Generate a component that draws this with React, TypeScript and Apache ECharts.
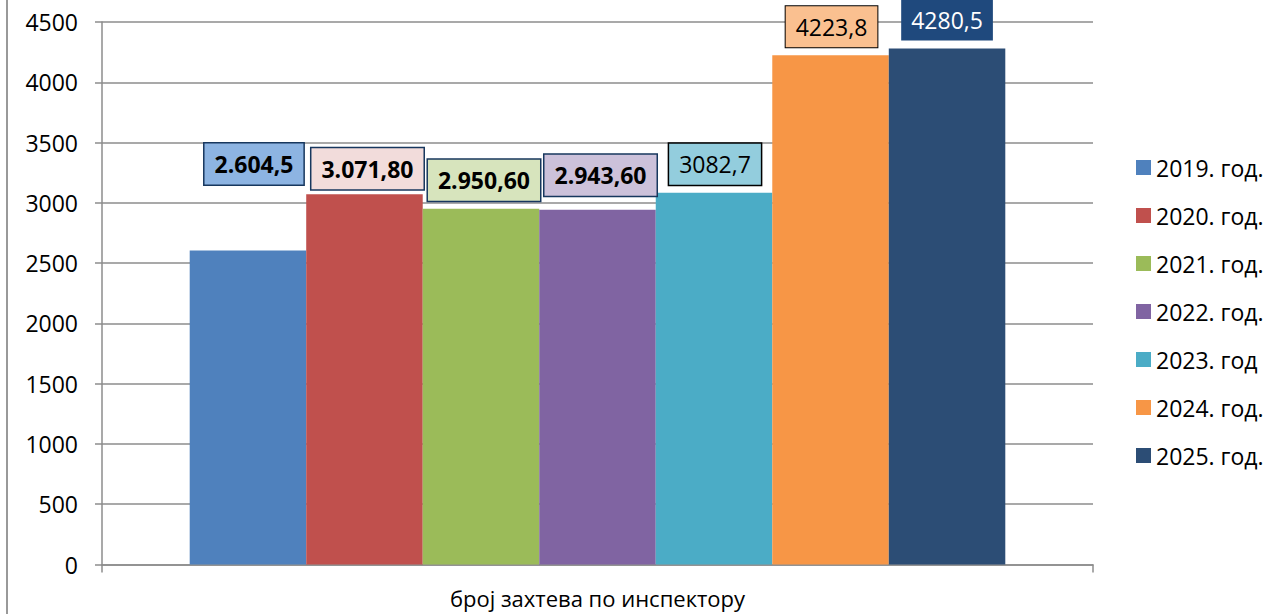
import React, { useEffect, useRef } from "react";
import * as echarts from "echarts";

const categories = ["број захтева по инспектору"];
const seriesNames = ["2019. год.", "2020. год.", "2021. год.", "2022. год.", "2023. год", "2024. год.", "2025. год."];
const seriesValues = [2604.5, 3071.8, 2950.6, 2943.6, 3082.7, 4223.8, 4280.5];
const labelTexts = ["2.604,5", "3.071,80", "2.950,60", "2.943,60", "3082,7", "4223,8", "4280,5"];
const yTicks = { min: 0, max: 4500, interval: 500 };

const barColors = ["#4F81BD", "#C0504D", "#9BBB59", "#8064A2", "#4BACC6", "#F79646", "#2C4D75"];
const labelBg = ["#8DB4E2", "#F2DCDB", "#D7E4BD", "#CCC1DA", "#93CDDD", "#FAC090", "#1F497D"];
const labelBorder = ["#17375E", "#17375E", "#17375E", "#17375E", "#000000", "#000000", "#1F497D"];
const labelBorderW = [1.5, 1.5, 1.5, 1.5, 1.5, 1, 0];
const labelColor = ["#000", "#000", "#000", "#000", "#000", "#000", "#fff"];
const labelWeight = ["bold", "bold", "bold", "bold", "normal", "normal", "normal"];
const labelOffset = [[6, -66], [3, -5], [3, -8], [3, -14], [1, -8], [1, -8], [0, -8]];

const FONT = "'Open Sans', sans-serif";

export default function App() {
  const ref = useRef<HTMLDivElement>(null);
  useEffect(() => {
    if (!ref.current) return;
    const chart = echarts.init(ref.current, null, { renderer: "svg" });
    chart.setOption({
      animation: false,
      backgroundColor: "#fff",
      textStyle: { fontFamily: FONT },
      grid: { left: 102, right: 178, top: 22, bottom: 49.5, containLabel: false },
      legend: {
        orient: "vertical",
        left: 1131,
        top: 151,
        icon: "rect",
        itemWidth: 15,
        itemHeight: 15,
        itemGap: 25,
        textStyle: { fontFamily: FONT, fontSize: 23, color: "#000" },
        data: seriesNames,
      },
      xAxis: {
        type: "category",
        data: categories,
        axisLine: { lineStyle: { color: "#8c8c8c", width: 1.5 } },
        axisTick: { show: true, length: 8, lineStyle: { color: "#8c8c8c", width: 1.5 } },
        axisLabel: { fontFamily: FONT, fontSize: 22, color: "#000", margin: 22 },
      },
      yAxis: {
        type: "value",
        min: yTicks.min,
        max: yTicks.max,
        interval: yTicks.interval,
        axisLine: { show: true, lineStyle: { color: "#8c8c8c", width: 1.5 } },
        axisTick: { show: true, length: 7, lineStyle: { color: "#8c8c8c", width: 1.5 } },
        axisLabel: {
          fontFamily: FONT,
          fontSize: 23,
          color: "#000",
          margin: 24,
          formatter: (v: number) => String(v),
        },
        splitLine: { lineStyle: { color: "#8c8c8c", width: 1.5 } },
      },
      graphic: [
        {
          type: "line",
          shape: { x1: 7, y1: 0, x2: 7, y2: 614 },
          style: { stroke: "#999", lineWidth: 2 },
        },
      ],
      series: seriesNames.map((name, i) => ({
        name,
        type: "bar",
        barGap: "0%",
        barCategoryGap: "17.7%",
        data: [seriesValues[i]],
        itemStyle: { color: barColors[i] },
        label: {
          show: true,
          position: "top",
          distance: 0,
          offset: labelOffset[i],
          formatter: () => labelTexts[i],
          fontFamily: FONT,
          fontSize: 23,
          lineHeight: 27,
          fontWeight: labelWeight[i],
          color: labelColor[i],
          backgroundColor: labelBg[i],
          borderColor: labelBorder[i],
          borderWidth: labelBorderW[i],
          padding: [7, 10, 7, 10],
        },
      })),
    });
    return () => chart.dispose();
  }, []);
  return (
    <div
      ref={ref}
      style={{ position: "fixed", left: 0, top: 0, width: 1271, height: 614 }}
    />
  );
}
